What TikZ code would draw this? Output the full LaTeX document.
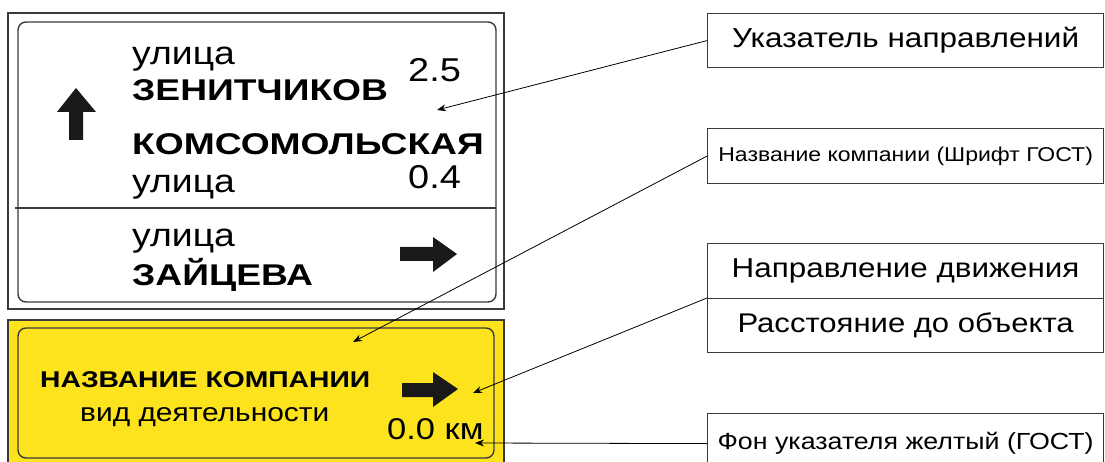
\documentclass[tikz,border=0pt]{standalone}
\usepackage{fontspec}
\setmainfont[FakeStretch=1.15,BoldFeatures={FakeStretch=1.24}]{Liberation Sans}
\usetikzlibrary{arrows.meta}
\definecolor{signyellow}{HTML}{FCE31E}
\definecolor{frame}{HTML}{3A3A3A}
\tikzset{
  lbl/.style={draw=frame,line width=1.2pt,fill=white,minimum width=396pt,inner sep=0pt,anchor=north west},
  ptr/.style={draw=black,line width=0.8pt,-{Stealth[length=9pt,width=7pt]}},
  txt/.style={anchor=base west,inner sep=0pt},
  fat/.style={fill=black!90}
}
\begin{document}
\begin{tikzpicture}[x=1pt,y=-1pt]
\useasboundingbox (0,0) rectangle (1105,462);
\clip (0,0) rectangle (1105,462);
% top sign
\draw[frame,line width=2.2pt] (8,13) rectangle (504,309);
\draw[frame,line width=1.4pt,rounded corners=8pt] (18,22) rectangle (496,302);
\draw[frame,line width=1.4pt] (15,208) -- (496,208);
\node[txt,font=\fontsize{32.5}{32.5}\selectfont] (u1) at (132,65) {улица};
\node[txt,font=\fontsize{30}{30}\selectfont\bfseries] (z1) at (132,101) {ЗЕНИТЧИКОВ};
\node[txt,font=\fontsize{33}{33}\selectfont] (d1) at (408,82) {2.5};
\node[txt,font=\fontsize{30}{30}\selectfont\bfseries] (k1) at (132,155) {КОМСОМОЛЬСКАЯ};
\node[txt,font=\fontsize{32.5}{32.5}\selectfont] (u2) at (132,193) {улица};
\node[txt,font=\fontsize{33}{33}\selectfont] (d2) at (408,189) {0.4};
\node[txt,font=\fontsize{32.5}{32.5}\selectfont] (u3) at (132,247) {улица};
\node[txt,font=\fontsize{30}{30}\selectfont\bfseries] (z2) at (132,285) {ЗАЙЦЕВА};
\fill[fat] (69,140) -- (69,112) -- (57,112) -- (76,88) -- (96,112) -- (83,112) -- (83,140) -- cycle;
\fill[fat] (400,247) -- (433,247) -- (433,237) -- (457,254) -- (433,272) -- (433,261) -- (400,261) -- cycle;
% yellow sign
\draw[frame,fill=signyellow,line width=2.2pt] (8,320) rectangle (504,470);
\draw[frame,line width=1.4pt,rounded corners=8pt] (18,328) rectangle (494,458);
\node[txt,font=\fontsize{22.8}{22.8}\selectfont\bfseries] (n1) at (40,387) {НАЗВАНИЕ КОМПАНИИ};
\node[txt,font=\fontsize{26}{26}\selectfont] (n2) at (80,421) {вид деятельности};
\node[txt,font=\fontsize{30}{30}\selectfont] (n3) at (387,439) {0.0 км};
\fill[fat] (402,383) -- (433,383) -- (433,372) -- (458,389) -- (433,407) -- (433,397) -- (402,397) -- cycle;
% labels
\node[lbl,minimum height=54pt,font=\fontsize{27.4}{27.4}\selectfont] (b1) at (707,13) {Указатель направлений};
\node[lbl,minimum height=55pt,font=\fontsize{20}{20}\selectfont] (b2) at (707,128) {Название компании (Шрифт ГОСТ)};
\node[lbl,minimum height=55pt,font=\fontsize{27.3}{27.3}\selectfont] (b3) at (707,243) {Направление движения};
\node[lbl,minimum height=54pt,font=\fontsize{27}{27}\selectfont] (b4) at (707,298) {Расстояние до объекта};
\node[lbl,minimum height=60pt,font=\fontsize{23.3}{23.3}\selectfont] (b5) at (707,413) {Фон указателя желтый (ГОСТ)};
% targets
\coordinate (t1) at (437,110);
\coordinate (t2) at (353,342);
\coordinate (t3) at (473,393);
\coordinate (t4) at (475,443);
\draw[ptr] (b1.west) -- (t1);
\draw[ptr] (b2.west) -- (t2);
\draw[ptr] (b4.north west) -- (t3);
\draw[ptr] (b5.west) -- (t4);
\end{tikzpicture}
\end{document}
